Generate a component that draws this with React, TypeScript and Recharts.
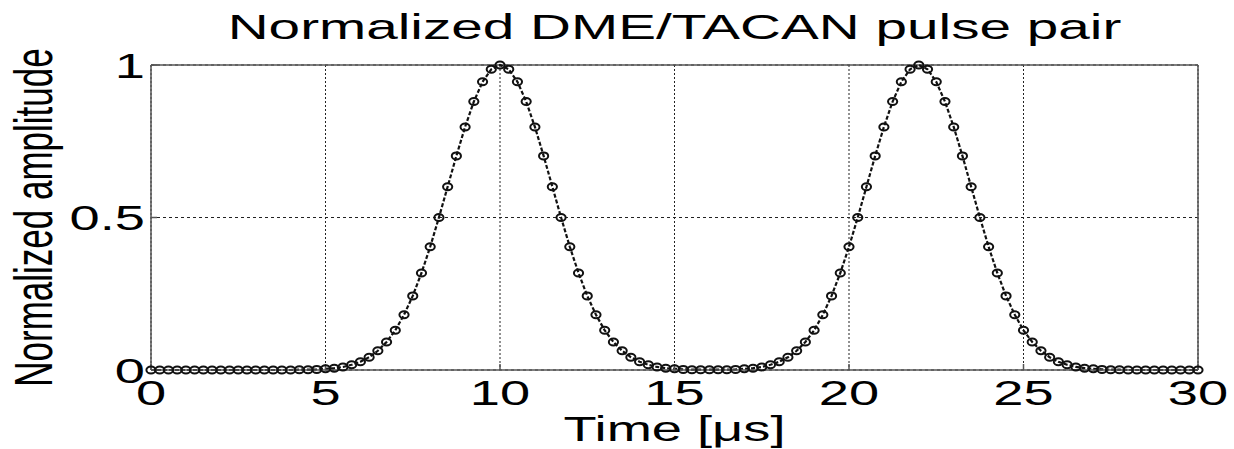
import { LineChart, Line, XAxis, YAxis, CartesianGrid, ReferenceLine } from "recharts";

// Sample times (µs) and normalized amplitude of the DME/TACAN Gaussian pulse pair
const timeUs = [
  0, 0.25, 0.5, 0.75, 1, 1.25, 1.5, 1.75, 2, 2.25, 2.5, 2.75,
  3, 3.25, 3.5, 3.75, 4, 4.25, 4.5, 4.75, 5, 5.25, 5.5, 5.75,
  6, 6.25, 6.5, 6.75, 7, 7.25, 7.5, 7.75, 8, 8.25, 8.5, 8.75,
  9, 9.25, 9.5, 9.75, 10, 10.25, 10.5, 10.75, 11, 11.25, 11.5, 11.75,
  12, 12.25, 12.5, 12.75, 13, 13.25, 13.5, 13.75, 14, 14.25, 14.5, 14.75,
  15, 15.25, 15.5, 15.75, 16, 16.25, 16.5, 16.75, 17, 17.25, 17.5, 17.75,
  18, 18.25, 18.5, 18.75, 19, 19.25, 19.5, 19.75, 20, 20.25, 20.5, 20.75,
  21, 21.25, 21.5, 21.75, 22, 22.25, 22.5, 22.75, 23, 23.25, 23.5, 23.75,
  24, 24.25, 24.5, 24.75, 25, 25.25, 25.5, 25.75, 26, 26.25, 26.5, 26.75,
  27, 27.25, 27.5, 27.75, 28, 28.25, 28.5, 28.75, 29, 29.25, 29.5, 29.75,
  30
];

const amplitude = [
  0, 0, 0, 0, 0, 0, 0, 0, 0, 0, 0, 0,
  0, 0, 0, 0, 0, 0.001, 0.001, 0.002, 0.004, 0.006, 0.01, 0.017,
  0.027, 0.042, 0.063, 0.092, 0.13, 0.181, 0.243, 0.318, 0.404, 0.5, 0.601, 0.702,
  0.797, 0.88, 0.945, 0.986, 1.0, 0.986, 0.945, 0.88, 0.797, 0.702, 0.601, 0.5,
  0.404, 0.318, 0.243, 0.181, 0.13, 0.092, 0.063, 0.042, 0.027, 0.017, 0.01, 0.006,
  0.004, 0.002, 0.001, 0.001, 0.001, 0.001, 0.001, 0.002, 0.004, 0.006, 0.01, 0.017,
  0.027, 0.042, 0.063, 0.092, 0.13, 0.181, 0.243, 0.318, 0.404, 0.5, 0.601, 0.702,
  0.797, 0.88, 0.945, 0.986, 1.0, 0.986, 0.945, 0.88, 0.797, 0.702, 0.601, 0.5,
  0.404, 0.318, 0.243, 0.181, 0.13, 0.092, 0.063, 0.042, 0.027, 0.017, 0.01, 0.006,
  0.004, 0.002, 0.001, 0.001, 0, 0, 0, 0, 0, 0, 0, 0,
  0
];

const xTicks = [0, 5, 10, 15, 20, 25, 30];
const yTicks = [0, 0.5, 1];

const data = timeUs.map((t, i) => ({ t, amp: amplitude[i] }));

const FONT = '"Liberation Sans", Arial, Helvetica, sans-serif';
const STRETCH = 1.55; // text is rendered wide, like the old figure export

const XTick = (props: any) => {
  const { x, y, payload } = props;
  return (
    <text
      transform={`translate(${x},${y}) scale(${STRETCH},1)`}
      textAnchor="middle"
      dy="0.71em"
      fontSize={35}
      fontFamily={FONT}
      fill="#000"
    >
      {payload.value}
    </text>
  );
};

const YTick = (props: any) => {
  const { x, y, payload } = props;
  return (
    <text
      transform={`translate(${x},${y}) scale(${STRETCH},1)`}
      textAnchor="end"
      dy="0.36em"
      fontSize={35}
      fontFamily={FONT}
      fill="#000"
    >
      {payload.value}
    </text>
  );
};

const PulseDot = (props: any) => {
  const { cx, cy, index } = props;
  if (cx == null || cy == null) return <g key={`d${index}`} />;
  return (
    <ellipse
      key={`d${index}`}
      cx={cx}
      cy={cy}
      rx={4.6}
      ry={3.5}
      fill="none"
      stroke="#111"
      strokeWidth={2}
    />
  );
};

const axisStroke = { stroke: "#555", strokeWidth: 1.5 };

export default function App() {
  return (
    <div style={{ position: "absolute", left: 0, top: 0, width: 1234, height: 449, background: "#fff" }}>
      <LineChart
        width={1234}
        height={449}
        data={data}
        margin={{ top: 65, right: 36, bottom: 39, left: 51 }}
      >
        <CartesianGrid horizontal={false} stroke="#222" strokeDasharray="2 2" />
        <CartesianGrid vertical={false} stroke="#222" strokeDasharray="3 3" />
        <XAxis
          dataKey="t"
          type="number"
          domain={[0, 30]}
          ticks={xTicks}
          height={40}
          tickSize={-6}
          tickMargin={16}
          tick={<XTick />}
          axisLine={axisStroke}
          tickLine={axisStroke}
          label={(p: any) => {
            const vb = p.viewBox;
            return (
              <text
                transform={`translate(${vb.x + vb.width / 2},${vb.y + 71}) scale(${STRETCH},1)`}
                textAnchor="middle"
                fontSize={35}
                fontFamily={FONT}
                fill="#000"
              >
                Time [μs]
              </text>
            );
          }}
        />
        <YAxis
          type="number"
          domain={[0, 1]}
          ticks={yTicks}
          width={100}
          tickSize={-6}
          tickMargin={12}
          tick={<YTick />}
          axisLine={axisStroke}
          tickLine={axisStroke}
          label={(p: any) => {
            const vb = p.viewBox;
            return (
              <text
                transform={`translate(${vb.x + 1},${vb.y + vb.height / 2}) scale(${STRETCH},1) rotate(-90)`}
                textAnchor="middle"
                fontSize={35}
                fontFamily={FONT}
                fill="#000"
              >
                Normalized amplitude
              </text>
            );
          }}
        />
        {/* top and right edges of the axes box; the title sits on the top edge */}
        <ReferenceLine
          y={1}
          stroke="#555"
          strokeWidth={1.5}
          label={(p: any) => {
            const vb = p.viewBox;
            return (
              <text
                transform={`translate(${vb.x + vb.width / 2},${vb.y - 26}) scale(1.62,1)`}
                textAnchor="middle"
                fontSize={35}
                fontFamily={FONT}
                fill="#000"
              >
                Normalized DME/TACAN pulse pair
              </text>
            );
          }}
        />
        <ReferenceLine x={30} stroke="#555" strokeWidth={1.5} />
        <Line
          type="linear"
          dataKey="amp"
          stroke="#111"
          strokeWidth={2.2}
          strokeDasharray="4 2"
          dot={PulseDot}
          activeDot={false}
          isAnimationActive={false}
        />
      </LineChart>
    </div>
  );
}
